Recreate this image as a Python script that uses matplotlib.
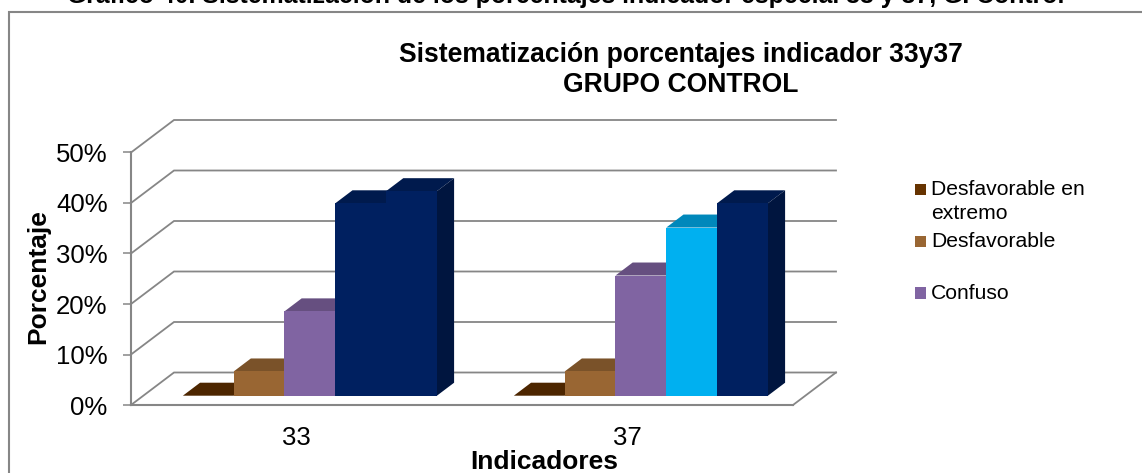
import matplotlib
matplotlib.use("Agg")
import matplotlib.pyplot as plt
from matplotlib.legend_handler import HandlerPatch
from matplotlib.lines import Line2D
from matplotlib.patches import Patch, Rectangle
from matplotlib.ticker import PercentFormatter

plt.rcParams['font.family'] = ['Liberation Sans', 'DejaVu Sans']

categories = ["33", "37"]
series_names = ["Desfavorable en\nextremo", "Desfavorable\n ", "Confuso"]
desfavorable_extremo = [0.0, 0.0]
desfavorable = [4.8, 4.8]
confuso = [16.7, 23.8]
favorable = [38.1, 33.3]
muy_favorable = [40.5, 38.1]
y_ticks = [0, 10, 20, 30, 40, 50]
caption = "Gráfico 40. Sistematización de los porcentajes indicador especial 33 y 37, G. Control"
title = "Sistematización porcentajes indicador 33y37\nGRUPO CONTROL"

W, H = 1142, 473
fig = plt.figure(figsize=(W / 100, H / 100), dpi=100, facecolor="white")
ax = fig.add_axes([131 / W, (H - 405) / H, 662 / W, 252.5 / H])
ax.set_xlim(0, 2)
ax.set_ylim(0, 50)
ax.patch.set_visible(False)

GRAY = "#868686"
DX = 43 / 331          # wall depth in category units
DY = 32.5 / 5.05       # wall depth in percent units
SLOT = 0.1535
START = 0.1195
D0, D1 = 0.286, 0.686  # bar front/back depth


def proj(x, y, d):
    return x + d * DX, y + d * DY


# Walls and floor
for t in y_ticks:
    x0, y0 = proj(0, t, 0)
    x1, y1 = proj(0, t, 1)
    x2, y2 = proj(2, t, 1)
    ax.plot([x0, x1, x2], [y0, y1, y2], color=GRAY, lw=1.3, clip_on=False, zorder=1,
            solid_joinstyle="miter")
x0, y0 = proj(2, 0, 0)
x1, y1 = proj(2, 0, 1)
ax.plot([x0, x1], [y0, y1], color=GRAY, lw=1.3, clip_on=False, zorder=1)
ax.plot([0, 2], [0, 0], color=GRAY, lw=1.5, clip_on=False, zorder=1)

# Bars: (front, top, side) colours
navy = ("#002060", "#001A4D", "#00153F")
styles = [
    [("#4D2600", "#4D2600", "#3D1F00")] * 2,
    [("#996633", "#7A5229", "#5C3D1F")] * 2,
    [("#8064A2", "#664F80", "#4D3C61")] * 2,
    [navy, ("#00B0F0", "#0088BB", "#006A91")],
    [navy, navy],
]
all_series = [desfavorable_extremo, desfavorable, confuso, favorable, muy_favorable]

z = 3
for c in range(len(categories)):
    for s, values in enumerate(all_series):
        v = values[c]
        front, top, side = styles[s][c]
        left = c + START + s * SLOT
        right = left + SLOT
        pts = [proj(left, v, D0), proj(right, v, D0), proj(right, v, D1), proj(left, v, D1)]
        ax.fill(*zip(*pts), color=top, lw=0, clip_on=False, zorder=z)
        pts = [proj(right, 0, D0), proj(right, v, D0), proj(right, v, D1), proj(right, 0, D1)]
        ax.fill(*zip(*pts), color=side, lw=0, clip_on=False, zorder=z)
        bx, by = proj(left, 0, D0)
        ax.bar(bx, v, width=SLOT, bottom=by, align="edge", color=front, lw=0,
               clip_on=False, zorder=z + 0.5)
        z += 1

# Axes
for name in ("top", "right", "bottom"):
    ax.spines[name].set_visible(False)
ax.spines["left"].set_color(GRAY)
ax.spines["left"].set_linewidth(1.5)
ax.set_yticks(y_ticks)
ax.yaxis.set_major_formatter(PercentFormatter(100, decimals=0))
ax.tick_params(axis="y", length=5.8, width=1.1, color=GRAY, pad=11, labelsize=18.5)
ax.set_xticks([0.5, 1.5], categories)
ax.tick_params(axis="x", length=0, pad=15, labelsize=18.5)

# Outer frame, open to the right and the bottom of the picture
fig.add_artist(Line2D([9 / W, 9 / W, 1], [0, (H - 12) / H, (H - 12) / H],
                      color=GRAY, lw=1.5, solid_joinstyle="miter"))

# Texts
fig.text(566 / W, (H - 3) / H, caption, ha="center", va="baseline", fontsize=17.9,
         fontweight="bold", color="black")
fig.text(680.5 / W, (H - 62) / H, title.split("\n")[0], ha="center", va="baseline",
         fontsize=19.1, fontweight="bold")
fig.text(680.5 / W, (H - 92) / H, title.split("\n")[1], ha="center", va="baseline",
         fontsize=19.1, fontweight="bold")
fig.text(544 / W, (H - 469) / H, "Indicadores", ha="center", va="baseline",
         fontsize=19, fontweight="bold")
fig.text(38 / W, (H - 276.5) / H, "Porcentaje", ha="center", va="center",
         rotation=90, fontsize=19, fontweight="bold")


# Legend: a small square in the lower part of a taller handle box
def square(legend, orig_handle, xdescent, ydescent, width, height, fontsize):
    side = width
    return Rectangle((-xdescent, -ydescent), side, side)


handles = [Patch(color=c, lw=0) for c in ("#663300", "#996633", "#8064A2")]
leg = fig.legend(handles, series_names, loc="upper left",
                 bbox_to_anchor=(915 / W, (H - 180) / H), frameon=False,
                 prop={"size": 15.2}, handlelength=0.53, handleheight=0.72,
                 handletextpad=0.24, labelspacing=0.42, borderpad=0, borderaxespad=0,
                 handler_map={Patch: HandlerPatch(patch_func=square)})
for row in leg._legend_handle_box.get_children()[0].get_children():
    row.align = "top"
for text in leg.get_texts():
    text.set_linespacing(1.33)

fig.savefig("out.png", dpi=100)
